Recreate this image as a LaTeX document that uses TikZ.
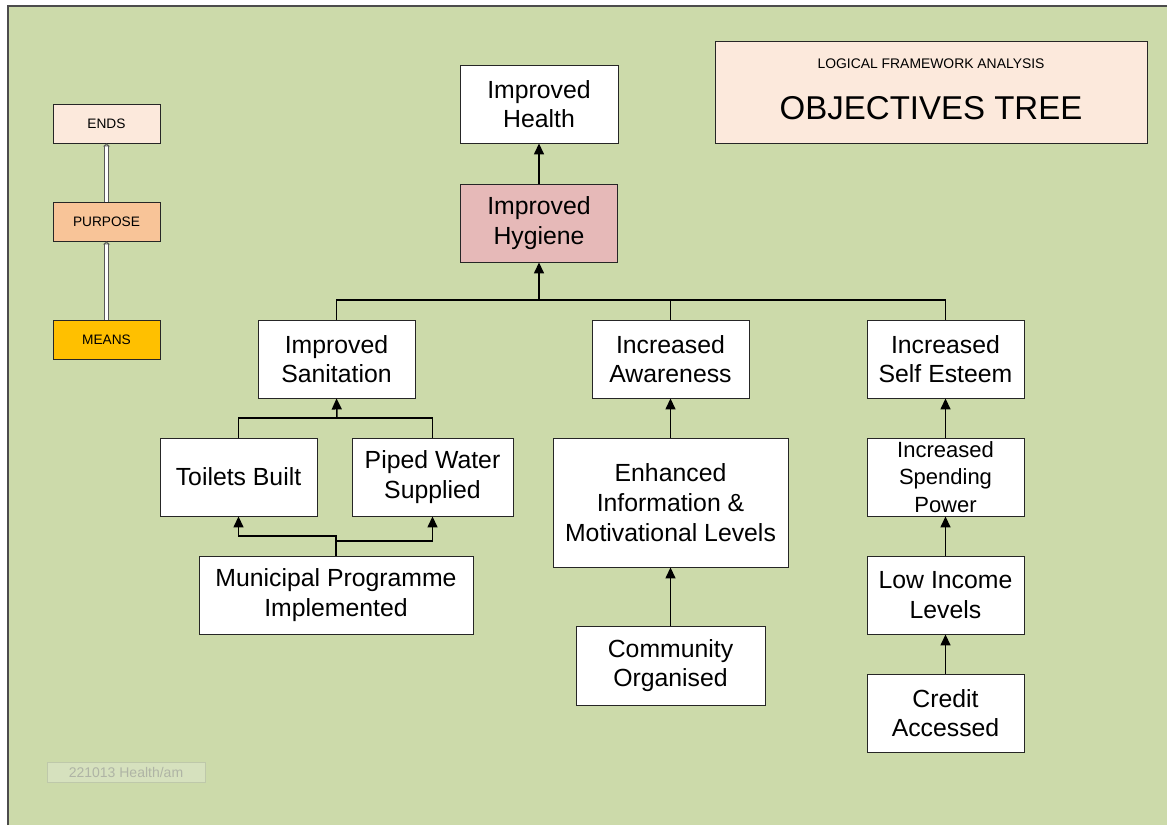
\documentclass[tikz,border=0pt]{standalone}
\usepackage{fontspec}
\setmainfont{Liberation Sans}
\usetikzlibrary{arrows.meta}
\definecolor{bggreen}{RGB}{204,218,170}
\definecolor{peachlight}{RGB}{252,233,220}
\definecolor{peach}{RGB}{248,196,152}
\definecolor{amber}{RGB}{255,192,0}
\definecolor{rosebox}{RGB}{230,185,184}
\definecolor{footfill}{RGB}{214,225,190}
\definecolor{footline}{RGB}{190,200,170}
\definecolor{foottext}{RGB}{175,180,165}
\tikzset{
  objbox/.style={draw=black!85, line width=0.9pt, fill=white, inner sep=0pt, align=center,
    font=\fontsize{24.8}{29.7}\selectfont},
  keybox/.style={draw=black!85, line width=0.9pt, inner sep=0pt, align=center,
    minimum width=107pt, minimum height=39pt, font=\fontsize{13.7}{16}\selectfont},
  conn/.style={line width=1.5pt, draw=black},
  arr/.style={conn, -{Triangle[length=11pt,width=10pt]}},
  dbl/.style={draw=gray!70!black, line width=0.8pt, double=white, double distance=3pt,
    -{Triangle[length=3pt,width=7pt,open]}}
}
\begin{document}
\begin{tikzpicture}[x=1pt,y=-1pt]
\useasboundingbox (0,0) rectangle (1167,825);
\fill[white] (0,0) rectangle (1167,825);
\fill[bggreen] (8,6) rectangle (1167,825);
\draw[black!70, line width=1.5pt] (8,825) -- (8,6) -- (1167,6);

% key column
\node[keybox, fill=peachlight] (ends) at (106.5,123.5) {ENDS};
\node[keybox, fill=peach] (purpose) at (106.5,221.5) {PURPOSE};
\node[keybox, fill=amber] (means) at (106.5,339.5) {MEANS};
\draw[dbl] (means.north) -- (purpose.south);
\draw[dbl] (purpose.north) -- (ends.south);

% footer
\node[draw=footline, fill=footfill, line width=0.8pt, minimum width=158pt, minimum height=20pt,
  inner sep=0pt, text=foottext, font=\fontsize{14}{16}\selectfont] (footer) at (126,772) {221013 Health/am};

% title
\node[draw=black!85, line width=0.9pt, fill=peachlight, minimum width=432pt, minimum height=102pt,
  inner sep=0pt] (title) at (931,92) {};
\node[font=\fontsize{13.9}{16}\selectfont, inner sep=0pt] (subtitle) at (931,63.5) {LOGICAL FRAMEWORK ANALYSIS};
\node[font=\fontsize{33}{38}\selectfont, inner sep=0pt] (maintitle) at (931,108) {OBJECTIVES TREE};

% tree
\node[objbox, minimum width=158pt, minimum height=78pt] (health) at (539,104) {Improved\\Health};
\node[objbox, fill=rosebox, minimum width=157pt, minimum height=78pt] (hygiene) at (539,223) {Improved\\Hygiene};
\node[objbox, minimum width=157pt, minimum height=78pt] (sanit) at (336.5,359) {Improved\\Sanitation};
\node[objbox, minimum width=157pt, minimum height=78pt] (aware) at (670.5,359) {Increased\\Awareness};
\node[objbox, minimum width=157pt, minimum height=78pt] (esteem) at (945.5,359) {Increased\\Self Esteem};
\node[objbox, minimum width=157pt, minimum height=78pt] (toilets) at (238.5,477) {Toilets Built};
\node[objbox, minimum width=161pt, minimum height=78pt] (piped) at (432.5,477) {Piped Water\\Supplied};
\node[objbox, minimum width=274pt, minimum height=78pt] (munic) at (336,595) {Municipal Programme\\Implemented};
\node[objbox, minimum width=235pt, minimum height=129pt] (enh) at (670.5,502.5) {Enhanced\\Information \&\\Motivational Levels};
\node[objbox, minimum width=189pt, minimum height=79pt] (comm) at (670.5,665.5) {Community\\Organised};
\node[objbox, minimum width=157pt, minimum height=78pt, font=\fontsize{22}{27.5}\selectfont] (spend) at (945.5,477) {Increased\\Spending\\Power};
\node[objbox, minimum width=157pt, minimum height=78pt] (low) at (945.5,595) {Low Income\\Levels};
\node[objbox, minimum width=157pt, minimum height=78pt] (credit) at (945.5,713) {Credit\\Accessed};

% connectors
\draw[arr] (hygiene.north) -- (health.south);
\coordinate (busA) at (539,300);
\draw[conn] (sanit.north) |- (busA) -| (esteem.north);
\draw[conn] (aware.north) -- (aware.north |- busA);
\draw[arr] (busA) -- (hygiene.south);

\coordinate (busB) at (337,418);
\draw[conn] (toilets.north) |- (busB) -| (piped.north);
\draw[arr] (busB) -- (sanit.south);

\coordinate (mleft) at (336,536);
\coordinate (mright) at (336,541);
\draw[arr] (munic.north) -- (mleft) -| (toilets.south);
\draw[arr] (munic.north) -- (mright) -| (piped.south);

\draw[arr] (enh.north) -- (aware.south);
\draw[arr] (comm.north) -- (enh.south);
\draw[arr] (spend.north) -- (esteem.south);
\draw[arr] (low.north) -- (spend.south);
\draw[arr] (credit.north) -- (low.south);
\end{tikzpicture}
\end{document}
